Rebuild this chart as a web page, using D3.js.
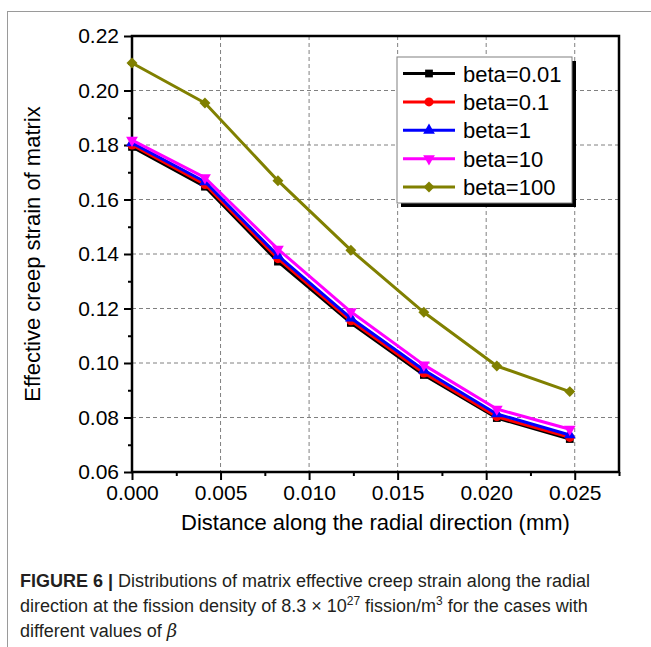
<!DOCTYPE html>
<html>
<head>
<meta charset="utf-8">
<script src="https://cdn.jsdelivr.net/npm/d3@7/dist/d3.min.js"></script>
<style>
  html, body { margin: 0; padding: 0; background: #fff; }
  svg { display: block; }
</style>
</head>
<body>
<svg id="chart" width="651" height="647"></svg>
<script>
// ---------------- DATA ----------------
const xValues = [0, 0.00412, 0.00824, 0.01236, 0.01648, 0.0206, 0.02472];
const seriesNames = ["beta=0.01", "beta=0.1", "beta=1", "beta=10", "beta=100"];
const beta001 = [0.1793, 0.1647, 0.1372, 0.1147, 0.0956, 0.0798, 0.0721];
const beta01  = [0.1800, 0.1655, 0.1383, 0.1155, 0.0963, 0.0803, 0.0727];
const beta1   = [0.1808, 0.1665, 0.1394, 0.1165, 0.0974, 0.0813, 0.0736];
const beta10  = [0.1818, 0.1680, 0.1418, 0.1188, 0.0993, 0.0831, 0.0757];
const beta100 = [0.2101, 0.1954, 0.1669, 0.1414, 0.1186, 0.0989, 0.0895];
const xTicks = [0, 0.005, 0.010, 0.015, 0.020, 0.025];
const yTicks = [0.06, 0.08, 0.10, 0.12, 0.14, 0.16, 0.18, 0.20, 0.22];
const xMinorTicks = [0.0025, 0.0075, 0.0125, 0.0175, 0.0225, 0.0275];
const yMinorTicks = [0.07, 0.09, 0.11, 0.13, 0.15, 0.17, 0.19, 0.21];
const xLabel = "Distance along the radial direction (mm)";
const yLabel = "Effective creep strain of matrix";

// ---------------- STYLE ----------------
const colors = ["#000000", "#ff0000", "#0000ff", "#ff00ff", "#808000"];
const allSeries = [beta001, beta01, beta1, beta10, beta100];
const FONT = "'Liberation Sans', Arial, Helvetica, sans-serif";

const svg = d3.select("#chart");
const L = 132, R = 619, T = 36, B = 472;

// outer frame lines (gray)
svg.append("line").attr("x1", 7).attr("x2", 651).attr("y1", 11.5).attr("y2", 11.5)
  .attr("stroke", "#9a9a9a").attr("stroke-width", 1);
svg.append("line").attr("x1", 7.5).attr("x2", 7.5).attr("y1", 11).attr("y2", 647)
  .attr("stroke", "#9a9a9a").attr("stroke-width", 1);

const x = d3.scaleLinear().domain([0, 0.0275]).range([L, R]);
const y = d3.scaleLinear().domain([0.06, 0.22]).range([B, T]);

// grid
const grid = svg.append("g");
grid.selectAll("line.vx").data(xTicks.filter(d => d > 0)).join("line")
  .attr("x1", d => x(d)).attr("x2", d => x(d)).attr("y1", T).attr("y2", B)
  .attr("stroke", "#808080").attr("stroke-width", 1).attr("stroke-dasharray", "4,3");
grid.selectAll("line.hy").data(yTicks.filter(d => d > 0.06 && d < 0.22)).join("line")
  .attr("x1", L).attr("x2", R).attr("y1", d => y(d)).attr("y2", d => y(d))
  .attr("stroke", "#808080").attr("stroke-width", 1).attr("stroke-dasharray", "4,3");

// axes
function styleAxis(g) {
  g.select(".domain").remove();
  g.selectAll(".tick line").attr("stroke", "#000").attr("stroke-width", 2);
  g.selectAll(".tick text").attr("font-family", FONT).attr("font-size", 21).attr("fill", "#000");
}
const xAxis = svg.append("g").attr("transform", `translate(0,${B})`)
  .call(d3.axisBottom(x).tickValues(xTicks).tickSize(8).tickPadding(5).tickFormat(d3.format(".3f")));
styleAxis(xAxis);
const xAxisMinor = svg.append("g").attr("transform", `translate(0,${B})`)
  .call(d3.axisBottom(x).tickValues(xMinorTicks).tickSize(4).tickFormat(""));
styleAxis(xAxisMinor);
const yAxis = svg.append("g").attr("transform", `translate(${L},0)`)
  .call(d3.axisLeft(y).tickValues(yTicks).tickSize(8).tickPadding(5).tickFormat(d3.format(".2f")));
styleAxis(yAxis);
const yAxisMinor = svg.append("g").attr("transform", `translate(${L},0)`)
  .call(d3.axisLeft(y).tickValues(yMinorTicks).tickSize(4).tickFormat(""));
styleAxis(yAxisMinor);

// frame
svg.append("rect").attr("x", L).attr("y", T).attr("width", R - L).attr("height", B - T)
  .attr("fill", "none").attr("stroke", "#000").attr("stroke-width", 2.5);

// markers
const symbols = [
  { type: d3.symbolSquare, size: 60, rot: 0 },
  { type: d3.symbolCircle, size: 64, rot: 0 },
  { type: d3.symbolTriangle, size: 60, rot: 0 },
  { type: d3.symbolTriangle, size: 60, rot: 180 },
  { type: d3.symbolSquare, size: 60, rot: 45 }
];

const line = d3.line().x((d, i) => x(xValues[i])).y(d => y(d));
const plot = svg.append("g");
allSeries.forEach((vals, si) => {
  plot.append("path").datum(vals).attr("d", line)
    .attr("fill", "none").attr("stroke", colors[si]).attr("stroke-width", 3)
    .attr("stroke-linejoin", "round");
  plot.selectAll(null).data(vals).join("path")
    .attr("d", d3.symbol().type(symbols[si].type).size(symbols[si].size))
    .attr("transform", (d, i) => `translate(${x(xValues[i])},${y(d)}) rotate(${symbols[si].rot})`)
    .attr("fill", colors[si]);
});

// legend
const lg = svg.append("g");
const lgX = 397, lgY = 57, lgW = 175, lgH = 146;
lg.append("rect").attr("x", lgX + 4).attr("y", lgY + 4).attr("width", lgW).attr("height", lgH).attr("fill", "#000");
lg.append("rect").attr("x", lgX).attr("y", lgY).attr("width", lgW).attr("height", lgH)
  .attr("fill", "#fff").attr("stroke", "#808080").attr("stroke-width", 1);
seriesNames.forEach((name, i) => {
  const cy = 73.5 + i * 28.4;
  lg.append("line").attr("x1", 403).attr("x2", 455).attr("y1", cy).attr("y2", cy)
    .attr("stroke", colors[i]).attr("stroke-width", 3);
  lg.append("path").attr("d", d3.symbol().type(symbols[i].type).size(symbols[i].size))
    .attr("transform", `translate(429,${cy}) rotate(${symbols[i].rot})`).attr("fill", colors[i]);
  lg.append("text").attr("x", 463).attr("y", cy + 8).text(name)
    .attr("font-family", FONT).attr("font-size", 22).attr("fill", "#000");
});

// axis titles
svg.append("text").attr("x", (L + R) / 2).attr("y", 530).attr("text-anchor", "middle")
  .attr("font-family", FONT).attr("font-size", 22).attr("fill", "#000").text(xLabel);
svg.append("text").attr("transform", `translate(40,${(T + B) / 2}) rotate(-90)`).attr("text-anchor", "middle")
  .attr("font-family", FONT).attr("font-size", 22).attr("fill", "#000").text(yLabel);

// caption
const CAP = "'Liberation Sans', Arial, sans-serif";
const cap = svg.append("g").attr("font-family", CAP).attr("font-size", 18).attr("fill", "#231f20");
const t1 = cap.append("text").attr("x", 20).attr("y", 587);
t1.append("tspan").attr("font-weight", "bold").text("FIGURE 6 | ");
t1.append("tspan").text("Distributions of matrix effective creep strain along the radial");
const t2 = cap.append("text").attr("x", 20).attr("y", 612);
t2.append("tspan").text("direction at the fission density of 8.3 × 10");
t2.append("tspan").attr("font-size", 12).attr("dy", -7).text("27");
t2.append("tspan").attr("dy", 7).text(" fission/m");
t2.append("tspan").attr("font-size", 12).attr("dy", -7).text("3");
t2.append("tspan").attr("dy", 7).text(" for the cases with");
const t3 = cap.append("text").attr("x", 20).attr("y", 637);
t3.append("tspan").text("different values of ");
t3.append("tspan").attr("font-style", "italic").attr("font-family", "'DejaVu Serif', serif").text("β");
</script>
</body>
</html>
